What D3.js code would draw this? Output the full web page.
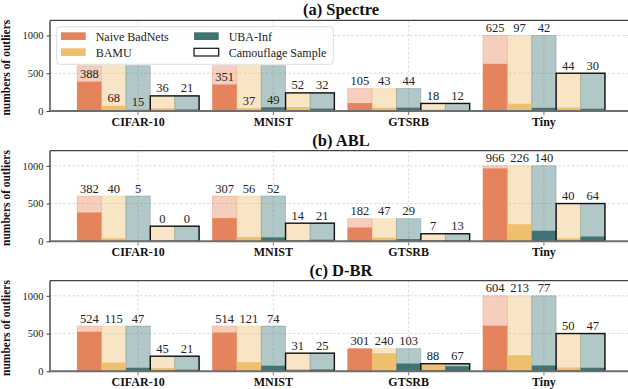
<!DOCTYPE html>
<html>
<head>
<meta charset="utf-8">
<script src="https://cdn.jsdelivr.net/npm/d3@7"></script>
<style>
  body { margin: 0; background: #fff; }
  svg { display: block; }
</style>
</head>
<body>
<svg id="chart" width="628" height="389"></svg>
<script>
// data
let categories = ["CIFAR-10", "MNIST", "GTSRB", "Tiny"];
let poisonTotal = [600, 600, 300, 1000];
let camoTotal = [200, 240, 100, 500];
let panelTitles = ["(a) Spectre", "(b) ABL", "(c) D-BR"];
let seriesNames = ["Naive BadNets", "BAMU", "UBA-Inf", "Camouflage Sample"];
let yTicks = [0, 500, 1000];

let spectreNaive = [388, 351, 105, 625];
let spectreBAMU = [68, 37, 43, 97];
let spectreUBA = [15, 49, 44, 42];
let spectreCamoBAMU = [36, 52, 18, 44];
let spectreCamoUBA = [21, 32, 12, 30];

let ablNaive = [382, 307, 182, 966];
let ablBAMU = [40, 56, 47, 226];
let ablUBA = [5, 52, 29, 140];
let ablCamoBAMU = [0, 14, 7, 40];
let ablCamoUBA = [0, 21, 13, 64];

let dbrNaive = [524, 514, 301, 604];
let dbrBAMU = [115, 121, 240, 213];
let dbrUBA = [47, 74, 103, 77];
let dbrCamoBAMU = [45, 31, 88, 50];
let dbrCamoUBA = [21, 25, 67, 47];

// in (a) the legend sits over these groups, so their labels follow the value
let labelAtValue = [["CIFAR-10", "MNIST"], [], []];

let panels = [
	[spectreNaive, spectreBAMU, spectreUBA, spectreCamoBAMU, spectreCamoUBA],
	[ablNaive, ablBAMU, ablUBA, ablCamoBAMU, ablCamoUBA],
	[dbrNaive, dbrBAMU, dbrUBA, dbrCamoBAMU, dbrCamoUBA]
];

let colors = ["#e5845c", "#eebf6d", "#3e7474"];
let barColor = [colors[0], colors[1], colors[2], colors[1], colors[2]];
let fontfamily = "'Liberation Serif', 'Times New Roman', serif";

let left = 50, right = 632;
let tops = [20.4, 150.7, 280.7];
let ph = 90.6;

let svg = d3.select("#chart");

let x = d3.scaleBand()
	.domain(categories)
	.range([left, right])
	.paddingInner(0.098)
	.paddingOuter(0.2);

let xs = d3.scaleBand()
	.domain(d3.range(5))
	.range([0, x.bandwidth()]);

panels.forEach(function(series, p) {
	let top = tops[p];
	let y = d3.scaleLinear().domain([0, 1200]).range([top + ph, top]);
	let g = svg.append("g");

	// grid
	g.selectAll(".hgrid").data(yTicks.slice(1)).enter().append("line")
		.attr("x1", left).attr("x2", right)
		.attr("y1", d => y(d)).attr("y2", d => y(d))
		.attr("stroke", "#d0d0d0").attr("stroke-width", 0.8)
		.attr("stroke-dasharray", "2.5,2");
	g.selectAll(".vgrid").data(categories).enter().append("line")
		.attr("x1", d => x(d) + x.bandwidth() / 2).attr("x2", d => x(d) + x.bandwidth() / 2)
		.attr("y1", top).attr("y2", top + ph)
		.attr("stroke", "#d0d0d0").attr("stroke-width", 0.8)
		.attr("stroke-dasharray", "2.5,2");

	// build bars
	let bars = [];
	categories.forEach(function(c, ci) {
		series.forEach(function(vals, k) {
			bars.push({
				cat: c, k: k, value: vals[ci],
				total: k < 3 ? poisonTotal[ci] : camoTotal[ci]
			});
		});
	});

	// light bars (total samples)
	g.selectAll(".light").data(bars).enter().append("rect")
		.attr("x", d => x(d.cat) + xs(d.k))
		.attr("width", xs.bandwidth())
		.attr("y", d => y(d.total))
		.attr("height", d => y(0) - y(d.total))
		.attr("fill", d => barColor[d.k])
		.attr("fill-opacity", 0.4)
		.attr("stroke", d => barColor[d.k])
		.attr("stroke-opacity", 0.35)
		.attr("stroke-width", 0.8);

	// dark bars (outliers)
	g.selectAll(".dark").data(bars).enter().append("rect")
		.attr("x", d => x(d.cat) + xs(d.k))
		.attr("width", xs.bandwidth())
		.attr("y", d => y(d.value))
		.attr("height", d => y(0) - y(d.value))
		.attr("fill", d => barColor[d.k]);

	// camouflage outline
	g.selectAll(".camo").data(categories).enter().append("rect")
		.attr("x", d => x(d) + xs(3))
		.attr("width", xs.bandwidth() * 2)
		.attr("y", (d, i) => y(camoTotal[i]))
		.attr("height", (d, i) => y(0) - y(camoTotal[i]))
		.attr("fill", "none")
		.attr("stroke", "#111")
		.attr("stroke-width", 1.4);

	// value labels
	g.selectAll(".lbl").data(bars).enter().append("text")
		.attr("x", d => x(d.cat) + xs(d.k) + xs.bandwidth() / 2)
		.attr("y", function(d) {
			let v = (d.k < 3 && labelAtValue[p].includes(d.cat)) ? d.value : d.total;
			return y(v) - 3.5;
		})
		.attr("text-anchor", "middle")
		.attr("font-family", fontfamily)
		.attr("font-size", "12.5px")
		.attr("fill", "#222")
		.text(d => d.value);

	// spines
	g.append("line").attr("x1", left).attr("x2", right).attr("y1", top).attr("y2", top)
		.attr("stroke", "#444").attr("stroke-width", 1.2);
	g.append("line").attr("x1", left).attr("x2", left).attr("y1", top).attr("y2", top + ph)
		.attr("stroke", "#222").attr("stroke-width", 1.2);
	g.append("line").attr("x1", left - 1).attr("x2", right).attr("y1", top + ph).attr("y2", top + ph)
		.attr("stroke", "#6e6e6e").attr("stroke-width", 2);

	// y axis
	let ya = g.append("g")
		.attr("transform", "translate(" + left + ",0)")
		.call(d3.axisLeft(y).tickValues(yTicks).tickFormat(d3.format("d")).tickSize(3.5).tickPadding(3));
	ya.select(".domain").remove();
	ya.selectAll(".tick line").attr("stroke", "#444");
	ya.selectAll(".tick text")
		.attr("font-family", fontfamily)
		.attr("font-size", "10.5px")
		.attr("fill", "#222");

	// x axis
	let xa = g.append("g")
		.attr("transform", "translate(0," + (top + ph + 1) + ")")
		.call(d3.axisBottom(x).tickSize(3).tickPadding(2));
	xa.select(".domain").remove();
	xa.selectAll(".tick line").attr("stroke", "#777");
	xa.selectAll(".tick text")
		.attr("font-family", fontfamily)
		.attr("font-size", "12px")
		.attr("font-weight", "bold")
		.attr("fill", "#111");

	// title
	svg.append("text")
		.attr("x", (left + right) / 2)
		.attr("y", top - 5)
		.attr("text-anchor", "middle")
		.attr("font-family", fontfamily)
		.attr("font-size", "16.5px")
		.attr("font-weight", "bold")
		.attr("fill", "#111")
		.text(panelTitles[p]);

	// y label
	svg.append("text")
		.attr("transform", "translate(10," + (top + ph / 2 + 2) + ") rotate(-90)")
		.attr("text-anchor", "middle")
		.attr("font-family", fontfamily)
		.attr("font-size", "11.5px")
		.attr("font-weight", "bold")
		.attr("fill", "#111")
		.text("numbers of outliers");
});

// legend
let lg = svg.append("g");
lg.append("rect")
	.attr("x", 56.7).attr("y", 26.7)
	.attr("width", 276.6).attr("height", 37.6)
	.attr("rx", 3)
	.attr("fill", "#fff").attr("fill-opacity", 0.85)
	.attr("stroke", "#d4d4d4").attr("stroke-width", 0.8);

// two columns: Naive, BAMU | UBA-Inf, Camouflage
let legendItems = lg.selectAll(".item").data(seriesNames).enter().append("g")
	.attr("transform", function(d, i) {
		let col = i < 2 ? 0 : 1;
		let row = i % 2;
		return "translate(" + (col == 0 ? 61 : 194) + "," + (row == 0 ? 32.3 : 48.3) + ")";
	});

legendItems.append("rect")
	.attr("width", 24.7).attr("height", 7.7)
	.attr("fill", (d, i) => i < 3 ? colors[i] : "#fff")
	.attr("stroke", (d, i) => i < 3 ? "none" : "#111")
	.attr("stroke-width", 1.2);

legendItems.append("text")
	.attr("x", 34.7).attr("y", 8.2)
	.attr("font-family", fontfamily)
	.attr("font-size", "12px")
	.attr("fill", "#222")
	.text(d => d);
</script>
</body>
</html>
